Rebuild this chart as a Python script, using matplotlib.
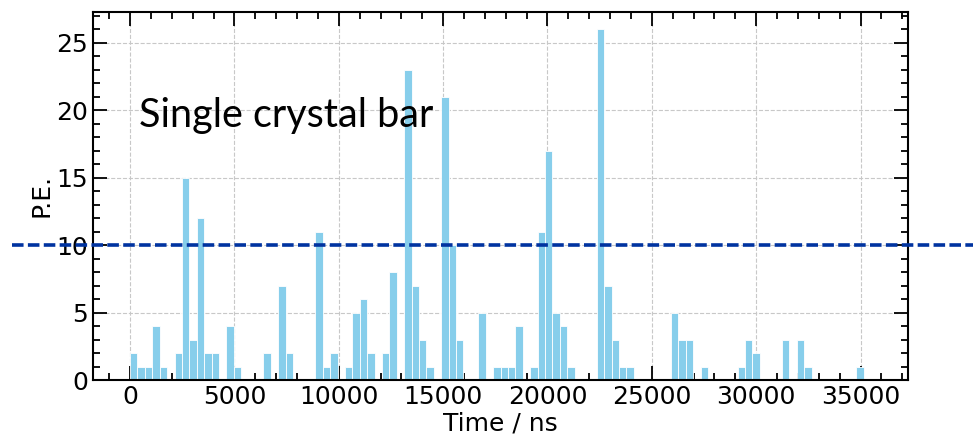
import numpy as np
import matplotlib
matplotlib.use("Agg")
import matplotlib.pyplot as plt
from matplotlib.ticker import MultipleLocator

# photo-electron counts per time bin (bin width in ns)
bin_width = 355
counts = [2, 1, 1, 4, 1, 0, 2, 15, 3, 12,
          2, 2, 0, 4, 1, 0, 0, 0, 2, 0,
          7, 2, 0, 0, 0, 11, 1, 2, 0, 1,
          5, 6, 2, 0, 2, 8, 0, 23, 7, 3,
          1, 0, 21, 10, 3, 0, 0, 5, 0, 1,
          1, 1, 4, 0, 1, 11, 17, 5, 4, 1,
          0, 0, 0, 26, 7, 3, 1, 1, 0, 0,
          0, 0, 0, 5, 3, 3, 0, 1, 0, 0,
          0, 0, 1, 3, 2, 0, 0, 0, 3, 0,
          3, 1, 0, 0, 0, 0, 0, 0, 1, 0]
threshold = 10
label_text = "Single crystal bar"


def main():
    fig = plt.figure(figsize=(9.73, 4.37), dpi=100)
    ax = fig.add_axes([0.0956, 0.1304, 0.8376, 0.8426])

    edges = np.arange(len(counts)) * bin_width
    ax.bar(edges, counts, width=bin_width, align="edge",
           color="skyblue", edgecolor="white", linewidth=0.6, zorder=2)

    ax.axhline(threshold, xmin=-0.1, xmax=1.1, clip_on=False,
               color="#0033a0", linestyle=(0, (3.2, 1.2)), linewidth=2.6, zorder=3)

    ax.text(0.057, 0.687, label_text, transform=ax.transAxes,
            fontsize=28.5, family="Lato", color="black")

    ax.set_xlabel("Time / ns", fontsize=18, labelpad=2)
    ax.set_ylabel("P.E.", fontsize=18, labelpad=2)

    ax.xaxis.set_major_locator(MultipleLocator(5000))
    ax.xaxis.set_minor_locator(MultipleLocator(1000))
    ax.yaxis.set_major_locator(MultipleLocator(5))
    ax.yaxis.set_minor_locator(MultipleLocator(1))
    ax.tick_params(which="both", direction="in", top=True, right=True,
                   labelsize=18, width=1.3)
    ax.tick_params(which="major", length=10)
    ax.tick_params(which="minor", length=5)
    for s in ax.spines.values():
        s.set_linewidth(1.5)
    ax.grid(True, which="major", linestyle="--", color="#c8c8c8",
            linewidth=0.8, zorder=0)
    ax.set_axisbelow(True)

    fig.savefig("out.png", dpi=100)


if __name__ == "__main__":
    main()
